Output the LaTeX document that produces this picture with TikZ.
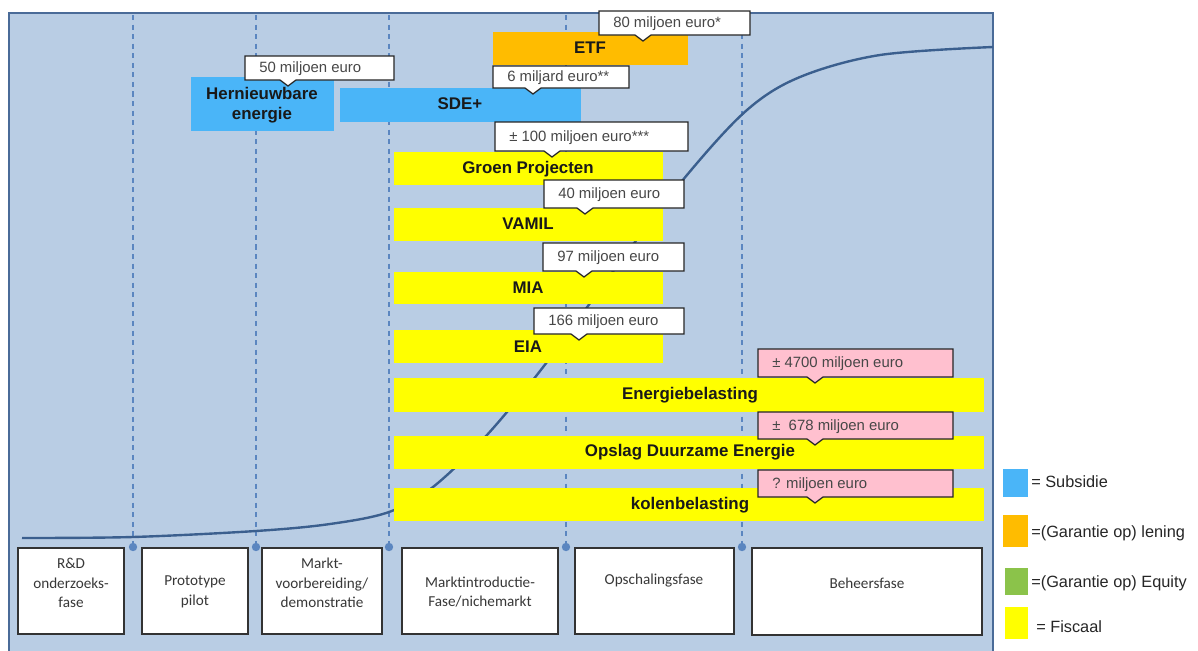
\documentclass[tikz,border=0pt]{standalone}
\usepackage{fontspec}
\setmainfont{Liberation Sans}
\newfontfamily\phasefont{Carlito}

\definecolor{panelbg}{HTML}{B9CDE4}
\definecolor{panelrim}{HTML}{4A6B98}
\definecolor{dashblue}{HTML}{5B86C0}
\definecolor{curveblue}{HTML}{3B5F8E}
\definecolor{subsidie}{HTML}{4AB5F8}
\definecolor{lening}{HTML}{FFBC00}
\definecolor{equity}{HTML}{8BC34A}
\definecolor{fiscaal}{HTML}{FFFF00}
\definecolor{pinkish}{HTML}{FFC0CF}

\tikzset{
  bar/.style={font=\fontsize{12}{14.2}\selectfont\bfseries, text=black!90, align=center, inner sep=0},
  amount/.style={font=\fontsize{10.6}{12}\selectfont, text=black!72, anchor=west, inner sep=0},
  phase/.style={font=\phasefont\fontsize{10.8}{13.8}\selectfont, text=black!78, align=center, inner sep=0},
  legend/.style={font=\fontsize{11.6}{13}\selectfont, text=black!85, anchor=west, inner sep=0},
  phasebox/.style={draw=black!80, line width=0.9pt, fill=white},
  fase/.style={dashblue, line width=0.9pt, dash pattern=on 3.6pt off 3.2pt},
  curve/.style={curveblue, line width=1.7pt}
}

% callout: name, x1, y1, x2, y2, tip x, fill, text
\newcommand{\bubble}[8]{%
  \filldraw[fill=#7, draw=black!85, line width=0.9pt]
    (#2,#3) -- (#4,#3) -- (#4,#5) -- (#6+8,#5) -- (#6,#5+6) -- (#6-8,#5) -- (#2,#5) -- cycle;
  \node[amount] (#1) at (#2+14,{(#3+#5)/2+1}) {#8};}

\begin{document}
\begin{tikzpicture}[x=0.025cm,y=-0.025cm]
\useasboundingbox (0,0) rectangle (1198,651);

% panel
\fill[panelbg] (9,13) rectangle (993,651);
\draw[panelrim, line width=1.6pt] (9,651) -- (9,13) -- (993,13) -- (993,651);

% phase borders
\foreach \xf in {133,256,389,566,742}{
  \draw[fase] (\xf,15) -- (\xf,543);
  \fill[dashblue] (\xf,547) circle (4.2);
}

% S-curve
\draw[curve] plot[smooth, tension=0.55] coordinates {(22,538) (133,537) (256,531) (330,524) (389,512) (433,487) (487,435) (547,362) (620,262) (687,175) (747,110) (800,77) (880,55) (993,47)};

% instruments
\fill[subsidie] (191,77) rectangle (334,131);
\node[bar] (hernieuwbaar) at (262,105) {Hernieuwbare\\energie};
\fill[subsidie] (340,88) rectangle (581,122);
\node[bar] (sde) at (460,104) {SDE+};
\fill[lening] (493,32) rectangle (688,65);
\node[bar] (etf) at (590,48) {ETF};
\fill[fiscaal] (394,152) rectangle (663,185);
\node[bar] (groen) at (528,169) {Groen Projecten};
\fill[fiscaal] (394,208) rectangle (663,241);
\node[bar] (vamil) at (528,224) {VAMIL};
\fill[fiscaal] (394,272) rectangle (663,304);
\node[bar] (mia) at (528,288) {MIA};
\fill[fiscaal] (394,330) rectangle (663,363);
\node[bar] (eia) at (528,347) {EIA};
\fill[fiscaal] (394,378) rectangle (984,412);
\node[bar] (energie) at (690,395) {Energiebelasting};
\fill[fiscaal] (394,436) rectangle (984,469);
\node[bar] (opslag) at (690,452) {Opslag Duurzame Energie};
\fill[fiscaal] (394,488) rectangle (984,521);
\node[bar] (kolen) at (690,505) {kolenbelasting};

% amounts
\bubble{bhern}{245}{56}{394}{80}{288}{white}{50 miljoen euro}
\bubble{betf}{599}{11}{750}{35}{643}{white}{80 miljoen euro*}
\bubble{bsde}{493}{66}{629}{88}{533}{white}{6 miljard euro**}
\bubble{bgroen}{495}{122}{688}{151}{552}{white}{± 100 miljoen euro***}
\bubble{bvamil}{544}{180}{684}{208}{585}{white}{40 miljoen euro}
\bubble{bmia}{543}{243}{684}{271}{584}{white}{97 miljoen euro}
\bubble{beia}{534}{308}{684}{334}{579}{white}{166 miljoen euro}
\bubble{benergie}{758}{349}{953}{377}{815}{pinkish}{± 4700 miljoen euro}
\bubble{bopslag}{758}{412}{953}{439}{815}{pinkish}{± \ 678 miljoen euro}
\bubble{bkolen}{758}{470}{953}{497}{815}{pinkish}{? miljoen euro}

% phases
\draw[phasebox] (18,548) rectangle (124,634);
\node[phase] (rd) at (71,583) {R\&D\\onderzoeks-\\fase};
\draw[phasebox] (142,548) rectangle (248,634);
\node[phase] (proto) at (195,592) {Prototype\\pilot};
\draw[phasebox] (262,548) rectangle (382,634);
\node[phase] (markt) at (322,583) {Markt-\\voorbereiding/\\demonstratie};
\draw[phasebox] (402,548) rectangle (558,634);
\node[phase] (intro) at (480,592) {Marktintroductie-\\Fase/nichemarkt};
\draw[phasebox] (575,548) rectangle (734,634);
\node[phase] (opschaal) at (654,581) {Opschalingsfase};
\draw[phasebox] (752,548) rectangle (982,635);
\node[phase] (beheer) at (867,583) {Beheersfase};

% legend
\fill[subsidie] (1003,469) rectangle (1028,497);
\node[legend] (lsub) at (1031,482) {= Subsidie};
\fill[lening] (1003,515) rectangle (1028,547);
\node[legend] (lien) at (1031,533) {=(Garantie op) lening};
\fill[equity] (1005,568) rectangle (1028,595);
\node[legend] (lequ) at (1031,583) {=(Garantie op) Equity};
\fill[fiscaal] (1005,607) rectangle (1028,639);
\node[legend] (lfis) at (1036,627) {= Fiscaal};
\end{tikzpicture}
\end{document}
